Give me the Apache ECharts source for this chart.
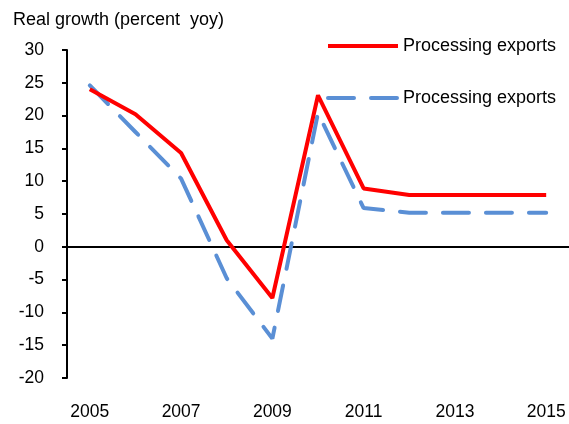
<!DOCTYPE html>
<html>
<head>
<meta charset="utf-8">
<script src="https://cdn.jsdelivr.net/npm/echarts@6/dist/echarts.min.js"></script>
<style>
  html, body { margin: 0; padding: 0; background: #fff; }
  #chart { width: 569px; height: 424px; }
</style>
</head>
<body>
<div id="chart"></div>
<script>
// data
const years = ['2005', '2006', '2007', '2008', '2009', '2010', '2011', '2012', '2013', '2014', '2015']
const redValues = [24.0, 20.2, 14.3, 1.0, -7.8, 23.1, 8.9, 7.9, 7.9, 7.9, 7.9]
const blueValues = [24.6, 17.5, 10.4, -4.8, -14.0, 20.4, 5.9, 5.2, 5.2, 5.2, 5.2]
const seriesNames = ['Processing exports', 'Processing exports ']

const font = 'Liberation Sans, Arial, sans-serif'

const chart = echarts.init(document.getElementById('chart'))

chart.setOption({
  animation: false,
  backgroundColor: '#fff',
  textStyle: { fontFamily: font },
  title: {
    text: 'Real growth (percent  yoy)',
    left: 13,
    top: 11,
    padding: 0,
    textStyle: { fontFamily: font, fontSize: 18, fontWeight: 'normal', color: '#000' }
  },
  legend: {
    orient: 'vertical',
    left: 326,
    top: 37,
    padding: 0,
    itemWidth: 70,
    itemHeight: 14,
    itemGap: 34,
    itemStyle: { opacity: 0 },
    lineStyle: { width: 4 },
    textStyle: { fontFamily: font, fontSize: 18, color: '#000' },
    data: seriesNames
  },
  grid: { left: 67, right: 0, top: 50, bottom: 46 },
  xAxis: [
    {
      type: 'category',
      data: years,
      boundaryGap: true,
      axisLine: { onZero: true, lineStyle: { color: '#000', width: 2 } },
      axisTick: { interval: 5, length: 5, lineStyle: { color: '#000', width: 2 } },
      axisLabel: { show: false }
    },
    {
      type: 'category',
      data: years,
      position: 'bottom',
      boundaryGap: true,
      axisLine: { show: false, onZero: false },
      axisTick: { show: false },
      axisLabel: { interval: 1, margin: 25, fontFamily: font, fontSize: 17.5, color: '#000' }
    }
  ],
  yAxis: {
    type: 'value',
    min: -20,
    max: 30,
    interval: 5,
    splitLine: { show: false },
    axisLine: { show: true, lineStyle: { color: '#000', width: 2 } },
    axisTick: { show: true, length: 5, lineStyle: { color: '#000', width: 2 } },
    axisLabel: { margin: 23, fontFamily: font, fontSize: 17.5, color: '#000' }
  },
  series: [
    {
      name: seriesNames[0],
      type: 'line',
      data: redValues,
      symbol: 'none',
      lineStyle: { color: '#ff0000', width: 4 },
      itemStyle: { color: '#ff0000' },
      z: 3
    },
    {
      name: seriesNames[1],
      type: 'line',
      data: blueValues,
      symbol: 'none',
      lineStyle: { color: '#5a8fd5', width: 4, type: [26, 17], cap: 'round' },
      itemStyle: { color: '#5a8fd5' },
      z: 2
    }
  ]
})
</script>
</body>
</html>
